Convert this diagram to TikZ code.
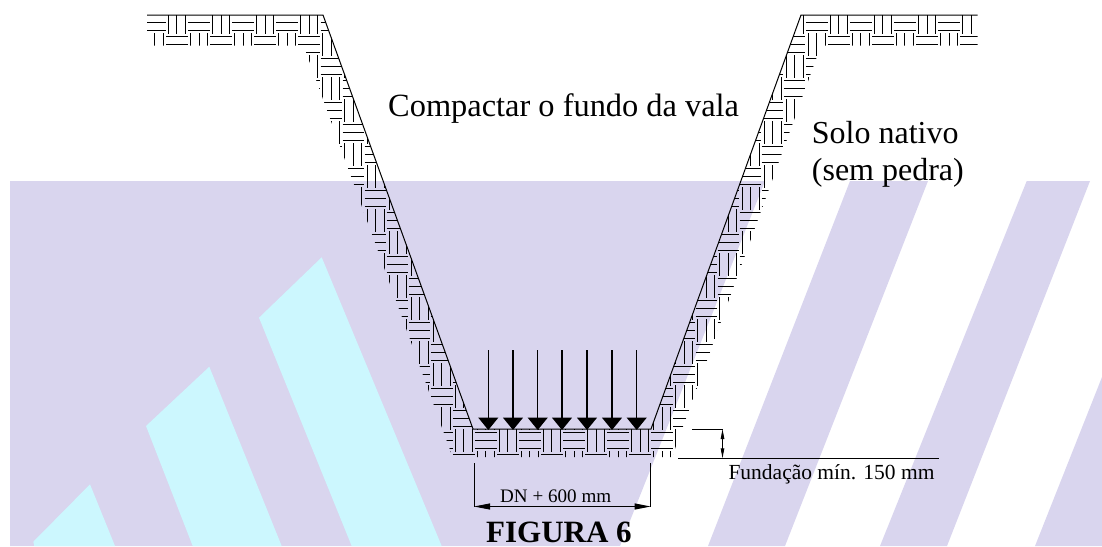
\documentclass[tikz,border=0pt]{standalone}
\usepackage{fontspec}
\setmainfont{Liberation Serif}
\usetikzlibrary{arrows.meta}
\definecolor{lav}{HTML}{D9D5EE}
\definecolor{cyn}{HTML}{CCF7FE}
\tikzset{
  hatchline/.style={black,line width=0.75pt},
  trench/.style={black,line width=1pt,line join=miter},
  load/.style={black,line width=1.5pt,-{Triangle[length=12.5pt,width=20pt]}},
  dimline/.style={black,line width=0.9pt},
  dimarrow/.style={black,line width=0.9pt,{Triangle[length=16pt,width=6pt]}-{Triangle[length=16pt,width=6pt]}},
  smallarrow/.style={black,line width=0.9pt,{Triangle[length=10pt,width=3.5pt]}-{Triangle[length=10pt,width=3.5pt]}},
  label/.style={inner sep=0pt,anchor=base west,text=black},
}
\newcommand{\fs}[1]{\fontsize{#1}{#1}\selectfont}
\begin{document}
\begin{tikzpicture}[x=1pt,y=-1pt]
\useasboundingbox (0,0) rectangle (1102,546);
% background
\fill[lav] (10,181) -- (765,181) -- (620,546) -- (10,546) -- cycle;
\fill[lav] (850,181) -- (928,181) -- (785,546) -- (708,546) -- cycle;
\fill[lav] (1026.7,181) -- (1090,181) -- (947,546) -- (880,546) -- cycle;
\fill[lav] (1102,377) -- (1102,546) -- (1035,546) -- cycle;
\fill[cyn] (321.7,257.3) -- (259,317.7) -- (351.7,546) -- (441.7,546) -- cycle;
\fill[cyn] (209.3,366.7) -- (146,426) -- (192.7,546) -- (281.7,546) -- cycle;
\fill[cyn] (90,484.3) -- (33.3,541.7) -- (34.3,546) -- (115,546) -- cycle;
% soil hatching
\begin{scope}
\clip (147,15) -- (323,15) -- (473,429) -- (651,429) -- (801,15) -- (977.5,15)
  -- (977.5,45.5) -- (821,45.5) -- (672,457) -- (452.6,457) -- (303.6,45.5) -- (147,45.5) -- cycle;
\foreach \r in {-11,...,9}{
  \foreach \m in {-10,...,19}{
    \pgfmathsetmacro{\hx}{386.7+22.06*(2*\m+\r)}
    \pgfmathsetmacro{\hy}{256+22*\r}
    \draw[hatchline]
      (\hx,\hy) -- ++(21.7,0)
      (\hx,\hy+8.3) -- ++(21.7,0)
      (\hx,\hy+16.6) -- ++(21.7,0)
      (\hx+24.3,\hy-3) -- ++(0,23)
      (\hx+32.8,\hy-3) -- ++(0,23)
      (\hx+41.3,\hy-3) -- ++(0,23);
  }
}
\end{scope}
% trench outline
\coordinate (tl) at (147,15);
\coordinate (tlc) at (323,15);
\coordinate (bl) at (473,429);
\coordinate (br) at (651,429);
\coordinate (trc) at (801,15);
\coordinate (tr) at (977.5,15);
\draw[trench] (tl) -- (tlc) -- (bl) -- (br) -- (trc) -- (tr);
% load arrows
\foreach \n/\x in {1/488.3,2/513,3/537.7,4/562,5/587,6/612,7/636.7}{
  \coordinate (a\n) at (\x,350);
  \coordinate (b\n) at (\x,430);
  \draw[load] (a\n) -- (b\n);
}
% width dimension
\coordinate (wl) at (474,463);
\coordinate (wla) at (474,506.5);
\coordinate (wr) at (650.7,463);
\coordinate (wra) at (650.7,506.5);
\draw[dimline] (wl) -- (wla);
\draw[dimline] (wr) -- (wra);
\draw[dimarrow] (wla) -- (wra);
% foundation dimension
\coordinate (ft1) at (692.3,429);
\coordinate (ft2) at (722.5,429);
\coordinate (fb1) at (678,458.3);
\coordinate (fb2) at (939.3,458.3);
\coordinate (fb3) at (722.5,458.3);
\draw[dimline] (ft1) -- (ft2);
\draw[dimline] (fb1) -- (fb2);
\draw[smallarrow] (ft2) -- (fb3);
% labels
\node[label] (compactar) at (388,116.7) {\fs{32.4}Compactar o fundo da vala};
\node[label] (solo) at (811.7,143.3) {\fs{32}Solo nativo};
\node[label] (sem) at (811.7,180) {\fs{32}(sem pedra)};
\node[label] (fund) at (728.3,479.3) {\fs{21.5}Fundação mín. 150 mm};
\node[label] (dn) at (500,502.7) {\fs{19.1}DN + 600 mm};
\node[label] (fig) at (486,542.8) {\fs{31}\bfseries FIGURA 6};
\end{tikzpicture}
\end{document}
